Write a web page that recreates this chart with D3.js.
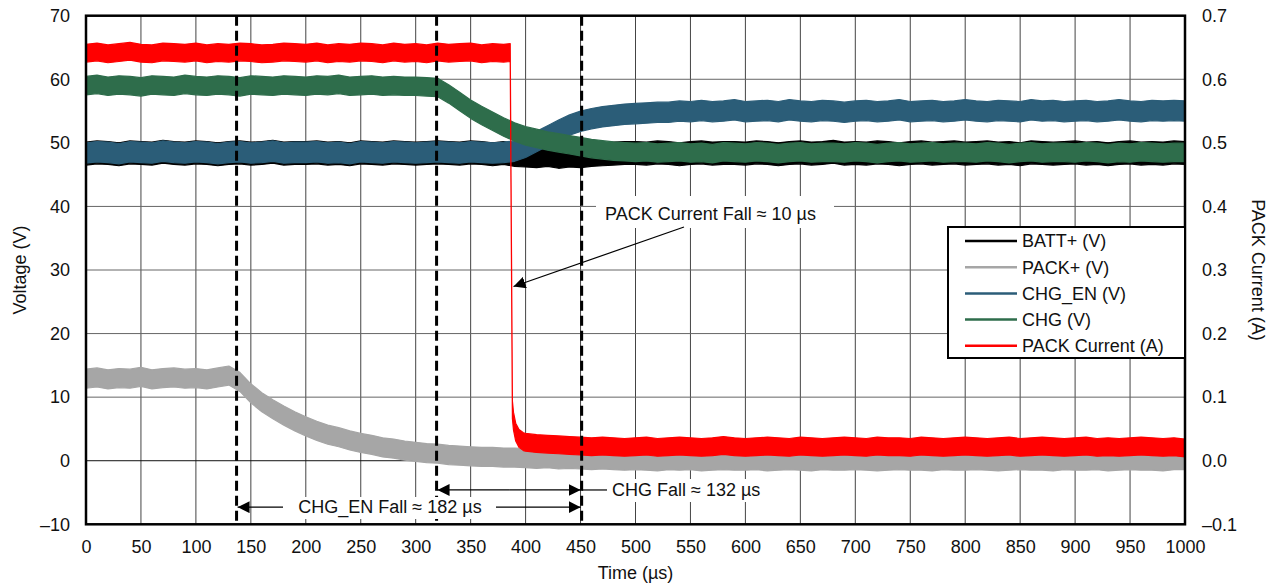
<!DOCTYPE html>
<html>
<head>
<meta charset="utf-8">
<script src="https://cdn.jsdelivr.net/npm/d3@7"></script>
<style>
  body { margin: 0; background: #fff; }
  text { font-family: "Liberation Sans", Arial, sans-serif; fill: #111; }
</style>
</head>
<body>
<div id="chart"></div>
<script>
/* tick values */
const xTicks = d3.range(0, 1001, 50);
const vTicks = d3.range(-10, 71, 10);
const aTicks = [-0.1, 0, 0.1, 0.2, 0.3, 0.4, 0.5, 0.6, 0.7];

/* sample times (µs) for the voltage traces, every 10 µs */
const tVolt = d3.range(0, 1001, 10);

/* trace mid values (V) */
const battMid = [
  48.3, 48.5, 48.4, 48.2, 48.5, 48.4, 48.3, 48.6, 48.4, 48.3,
  48.5, 48.4, 48.2, 48.4, 48.5, 48.3, 48.4, 48.6, 48.3, 48.4,
  48.4, 48.5, 48.3, 48.4, 48.2, 48.5, 48.4, 48.3, 48.5, 48.4,
  48.3, 48.4, 48.5, 48.4, 48.3, 48.5, 48.4, 48.2, 48.4, 48.1,
  48.0, 47.9, 48.1, 47.8, 48.0, 47.9, 48.1, 48.2, 48.3, 48.4,
  48.4, 48.3, 48.5, 48.4, 48.2, 48.4, 48.5, 48.3, 48.4, 48.4,
  48.3, 48.5, 48.4, 48.2, 48.4, 48.5, 48.3, 48.4, 48.6, 48.3,
  48.4, 48.3, 48.5, 48.4, 48.2, 48.4, 48.5, 48.3, 48.4, 48.5,
  48.3, 48.4, 48.5, 48.3, 48.4, 48.2, 48.5, 48.4, 48.3, 48.4,
  48.5, 48.3, 48.4, 48.2, 48.4, 48.5, 48.3, 48.4, 48.3, 48.5,
  48.4
];
const packMid = [
  12.9, 13.1, 12.8, 13.0, 12.9, 13.2, 12.8, 13.0, 13.1, 12.9,
  13.0, 12.8, 13.1, 13.4, 12.4, 10.6, 9.2, 8.1, 7.1, 6.2,
  5.4, 4.7, 4.1, 3.7, 3.2, 2.8, 2.5, 2.1, 1.9, 1.6,
  1.4, 1.2, 1.1, 0.9, 0.8, 0.7, 0.6, 0.6, 0.5, 0.5,
  0.4, 0.3, 0.4, 0.2, 0.3, 0.2, 0.1, 0.2, 0.1, 0.0,
  0.1, 0.0, -0.1, 0.1, 0.0, 0.1, -0.1, 0.0, 0.1, 0.0,
  0.0, 0.1, -0.1, 0.0, 0.1, 0.0, -0.1, 0.1, 0.0, 0.0,
  0.1, 0.0, -0.1, 0.0, 0.1, 0.0, 0.0, -0.1, 0.1, 0.0,
  0.0, 0.1, 0.0, -0.1, 0.0, 0.1, 0.0, 0.0, -0.1, 0.1,
  0.0, 0.0, 0.1, -0.1, 0.0, 0.1, 0.0, 0.0, -0.1, 0.1,
  0.1
];
const chgEnMid = [
  48.4, 48.6, 48.5, 48.3, 48.6, 48.5, 48.4, 48.7, 48.5, 48.4,
  48.6, 48.5, 48.3, 48.5, 48.6, 48.4, 48.5, 48.7, 48.4, 48.5,
  48.5, 48.6, 48.4, 48.5, 48.3, 48.6, 48.5, 48.4, 48.6, 48.5,
  48.4, 48.5, 48.6, 48.5, 48.4, 48.6, 48.5, 48.4, 48.5, 48.7,
  49.3, 50.2, 51.1, 52.0, 52.8, 53.4, 53.8, 54.1, 54.3, 54.5,
  54.6, 54.7, 54.8, 54.8, 55.0, 54.9, 55.1, 54.9, 55.0, 55.2,
  54.9, 55.0, 55.1, 54.9, 55.2, 55.0, 54.9, 55.1, 55.0, 54.8,
  55.0, 55.1, 54.9, 55.0, 55.2, 54.9, 55.0, 55.1, 54.9, 55.0,
  55.2, 55.0, 54.9, 55.1, 55.0, 54.9, 55.2, 55.0, 55.1, 54.9,
  55.0, 55.1, 54.9, 55.0, 55.2, 55.0, 54.9, 55.1, 55.0, 55.1,
  55.0
];
const chgMid = [
  59.0, 59.2, 58.9, 59.1, 59.0, 58.8, 59.1, 59.0, 58.9, 59.2,
  59.0, 58.9, 59.1, 59.0, 58.8, 59.1, 59.0, 58.9, 59.1, 59.0,
  58.9, 59.1, 59.0, 59.2, 58.9, 59.0, 59.1, 58.9, 59.0, 58.9,
  58.9, 58.8, 58.7, 57.7, 56.5, 55.3, 54.3, 53.4, 52.5, 51.7,
  51.1, 50.7, 50.3, 50.0, 49.7, 49.4, 49.1, 48.9, 48.7, 48.6,
  48.5, 48.6, 48.4, 48.5, 48.6, 48.4, 48.5, 48.3, 48.6, 48.5,
  48.4, 48.6, 48.5, 48.3, 48.5, 48.6, 48.4, 48.5, 48.5, 48.4,
  48.6, 48.5, 48.3, 48.5, 48.6, 48.4, 48.5, 48.6, 48.4, 48.5,
  48.5, 48.4, 48.6, 48.5, 48.3, 48.5, 48.6, 48.4, 48.5, 48.5,
  48.4, 48.6, 48.5, 48.3, 48.5, 48.4, 48.6, 48.5, 48.4, 48.5,
  48.5
];

/* PACK current (A): denser samples around the fall at ~388 µs */
const tCurr = d3.range(0, 390, 10).concat([386, 388, 389, 391, 394, 398]).concat(d3.range(400, 1001, 10));
const currMid = [
  0.641, 0.643, 0.640, 0.642, 0.644, 0.641, 0.640, 0.643, 0.642, 0.641,
  0.643, 0.640, 0.642, 0.641, 0.643, 0.642, 0.640, 0.641, 0.643, 0.642,
  0.641, 0.643, 0.640, 0.642, 0.641, 0.643, 0.642, 0.640, 0.643, 0.641,
  0.642, 0.640, 0.643, 0.641, 0.642, 0.643, 0.640, 0.642, 0.641,
  0.642, 0.080, 0.062, 0.045, 0.035, 0.030,
  0.029, 0.027, 0.026, 0.025, 0.024, 0.023, 0.022, 0.023, 0.022, 0.021,
  0.022, 0.023, 0.021, 0.022, 0.023, 0.022, 0.021, 0.022, 0.024, 0.022,
  0.021, 0.022, 0.023, 0.022, 0.021, 0.023, 0.022, 0.021, 0.022, 0.023,
  0.022, 0.021, 0.023, 0.022, 0.022, 0.021, 0.023, 0.022, 0.021, 0.022,
  0.023, 0.022, 0.021, 0.022, 0.023, 0.021, 0.022, 0.023, 0.022, 0.021,
  0.022, 0.023, 0.021, 0.022, 0.021, 0.022, 0.023, 0.022, 0.021, 0.022,
  0.020
];

/* half height of the noise band of each trace */
const seriesNames = ["BATT+ (V)", "PACK+ (V)", "CHG_EN (V)", "CHG (V)", "PACK Current (A)"];
const seriesColors = ["#000000", "#a6a6a6", "#2b5d78", "#2e6d4b", "#ff0000"];
const noiseHalf = [1.8, 1.5, 1.6, 1.45, 0.014];

/* marker times (µs) */
const markers = [137, 319, 451];

const width = 1272, height = 588;
const margin = { top: 15.7, left: 86, right: 87, bottom: 63.7 };
const fontSize = 18;

const svg = d3.select("#chart")
    .append("svg")
    .attr("width", width)
    .attr("height", height);

svg.append("rect").attr("width", width).attr("height", height).attr("fill", "#fff");

const xScale = d3.scaleLinear().domain([0, 1000]).range([margin.left, width - margin.right]);
const yLeft = d3.scaleLinear().domain([-10, 70]).range([height - margin.bottom, margin.top]);
const yRight = d3.scaleLinear().domain([-0.1, 0.7]).range([height - margin.bottom, margin.top]);

// grid
svg.append("g").selectAll("line").data(xTicks).join("line")
    .attr("x1", d => xScale(d)).attr("x2", d => xScale(d))
    .attr("y1", margin.top).attr("y2", height - margin.bottom)
    .attr("stroke", "#444").attr("stroke-width", 1);
svg.append("g").selectAll("line").data(vTicks).join("line")
    .attr("x1", margin.left).attr("x2", width - margin.right)
    .attr("y1", d => yLeft(d)).attr("y2", d => yLeft(d))
    .attr("stroke", d => d === 0 ? "#111" : "#666").attr("stroke-width", 1);

// traces as noise bands
const traces = [
  { t: tVolt, v: battMid, y: yLeft },
  { t: tVolt, v: packMid, y: yLeft },
  { t: tVolt, v: chgEnMid, y: yLeft },
  { t: tVolt, v: chgMid, y: yLeft },
  { t: tCurr, v: currMid, y: yRight }
];
traces.forEach((s, i) => {
  const pts = s.t.map((t, j) => ({ t: t, v: s.v[j] }));
  const area = d3.area()
      .x(d => xScale(d.t))
      .y0(d => s.y(d.v - noiseHalf[i]))
      .y1(d => s.y(d.v + noiseHalf[i]));
  svg.append("path")
      .datum(pts)
      .attr("d", area)
      .attr("fill", seriesColors[i])
      .attr("stroke", seriesColors[i])
      .attr("stroke-width", 1.2)
      .attr("stroke-linejoin", "round");
});

// dashed markers
svg.append("g").selectAll("line").data(markers).join("line")
    .attr("x1", d => xScale(d)).attr("x2", d => xScale(d))
    .attr("y1", margin.top).attr("y2", height - margin.bottom)
    .attr("stroke", "#000").attr("stroke-width", 3)
    .attr("stroke-dasharray", "10,5");

// white boxes behind the span labels
svg.append("rect").attr("x", 289).attr("y", 497).attr("width", 202).attr("height", 22).attr("fill", "#fff");
svg.append("rect").attr("x", 608).attr("y", 479).attr("width", 162).attr("height", 23).attr("fill", "#fff");

// arrow heads
const defs = svg.append("defs");
defs.append("marker")
    .attr("id", "head")
    .attr("viewBox", "0 0 12 12")
    .attr("refX", 12).attr("refY", 6)
    .attr("markerWidth", 12).attr("markerHeight", 12)
    .attr("markerUnits", "userSpaceOnUse")
    .attr("orient", "auto")
  .append("path")
    .attr("d", "M0,0 L12,6 L0,12 Z")
    .attr("fill", "#000");

function arrow(x1, y1, x2, y2) {
  svg.append("line")
      .attr("x1", x1).attr("y1", y1).attr("x2", x2).attr("y2", y2)
      .attr("stroke", "#000").attr("stroke-width", 1.2)
      .attr("marker-end", "url(#head)");
}

// CHG_EN fall span
const yEn = yLeft(-7.3);
arrow(283, yEn, xScale(markers[0]) + 1, yEn);
arrow(496, yEn, xScale(markers[2]) - 1, yEn);
svg.append("text")
    .attr("x", 390).attr("y", yEn).attr("dy", "0.35em")
    .attr("text-anchor", "middle").attr("font-size", fontSize)
    .text("CHG_EN Fall ≈ 182 µs");

// CHG fall span
const yChg = yLeft(-4.6);
arrow(xScale(385), yChg, xScale(markers[1]) + 1, yChg);
arrow(xScale(385), yChg, xScale(markers[2]) - 1, yChg);
svg.append("line")
    .attr("x1", xScale(markers[2])).attr("x2", 607)
    .attr("y1", yChg).attr("y2", yChg)
    .attr("stroke", "#000").attr("stroke-width", 1.2);
svg.append("text")
    .attr("x", 612).attr("y", yChg).attr("dy", "0.35em")
    .attr("font-size", fontSize)
    .text("CHG Fall ≈ 132 µs");

// PACK current fall callout
svg.append("rect")
    .attr("x", 596).attr("y", 196).attr("width", 238).attr("height", 32)
    .attr("fill", "#fff");
svg.append("text")
    .attr("x", 605).attr("y", 214).attr("dy", "0.35em")
    .attr("font-size", fontSize)
    .text("PACK Current Fall ≈ 10 µs");
arrow(684, 227, xScale(389), yLeft(27.4));

// axes
const fmtMinus = f => d => (d < 0 ? "–" : "") + f(Math.abs(d));
const xAxis = svg.append("g")
    .attr("transform", `translate(0,${height - margin.bottom})`)
    .call(d3.axisBottom(xScale).tickValues(xTicks).tickSize(0).tickPadding(16).tickFormat(d3.format("d")));
const lAxis = svg.append("g")
    .attr("transform", `translate(${margin.left},0)`)
    .call(d3.axisLeft(yLeft).tickValues(vTicks).tickSize(0).tickPadding(16).tickFormat(fmtMinus(d3.format("d"))));
const rAxis = svg.append("g")
    .attr("transform", `translate(${width - margin.right},0)`)
    .call(d3.axisRight(yRight).tickValues(aTicks).tickSize(0).tickPadding(17).tickFormat(fmtMinus(d3.format(".1f"))));
[xAxis, lAxis, rAxis].forEach(a => {
  a.select(".domain").remove();
  a.selectAll("text").attr("font-size", fontSize).attr("font-family", "Liberation Sans, Arial, sans-serif").attr("fill", "#111");
});

// plot frame
svg.append("rect")
    .attr("x", margin.left).attr("y", margin.top)
    .attr("width", width - margin.left - margin.right)
    .attr("height", height - margin.top - margin.bottom)
    .attr("fill", "none").attr("stroke", "#000").attr("stroke-width", 2.5);

// axis titles
svg.append("text")
    .attr("x", xScale(500)).attr("y", 573).attr("dy", "0.35em")
    .attr("text-anchor", "middle").attr("font-size", fontSize)
    .text("Time (µs)");
svg.append("text")
    .attr("transform", "rotate(-90)")
    .attr("x", -270).attr("y", 20).attr("dy", "0.35em")
    .attr("text-anchor", "middle").attr("font-size", fontSize)
    .text("Voltage (V)");
svg.append("text")
    .attr("transform", "rotate(90)")
    .attr("x", 270).attr("y", -1258).attr("dy", "0.35em")
    .attr("text-anchor", "middle").attr("font-size", fontSize)
    .text("PACK Current (A)");

// legend
const legend = svg.append("g").attr("transform", "translate(948,227)");
legend.append("rect")
    .attr("width", 237).attr("height", 131)
    .attr("fill", "#fff").attr("stroke", "#000").attr("stroke-width", 2);
const item = legend.selectAll("g.item").data(seriesNames).join("g")
    .attr("class", "item")
    .attr("transform", (d, i) => `translate(0,${14 + i * 26.2})`);
item.append("line")
    .attr("x1", 17).attr("x2", 69)
    .attr("stroke", (d, i) => seriesColors[i]).attr("stroke-width", 2.5);
item.append("text")
    .attr("x", 74).attr("dy", "0.35em").attr("font-size", fontSize)
    .text(d => d);
</script>
</body>
</html>
